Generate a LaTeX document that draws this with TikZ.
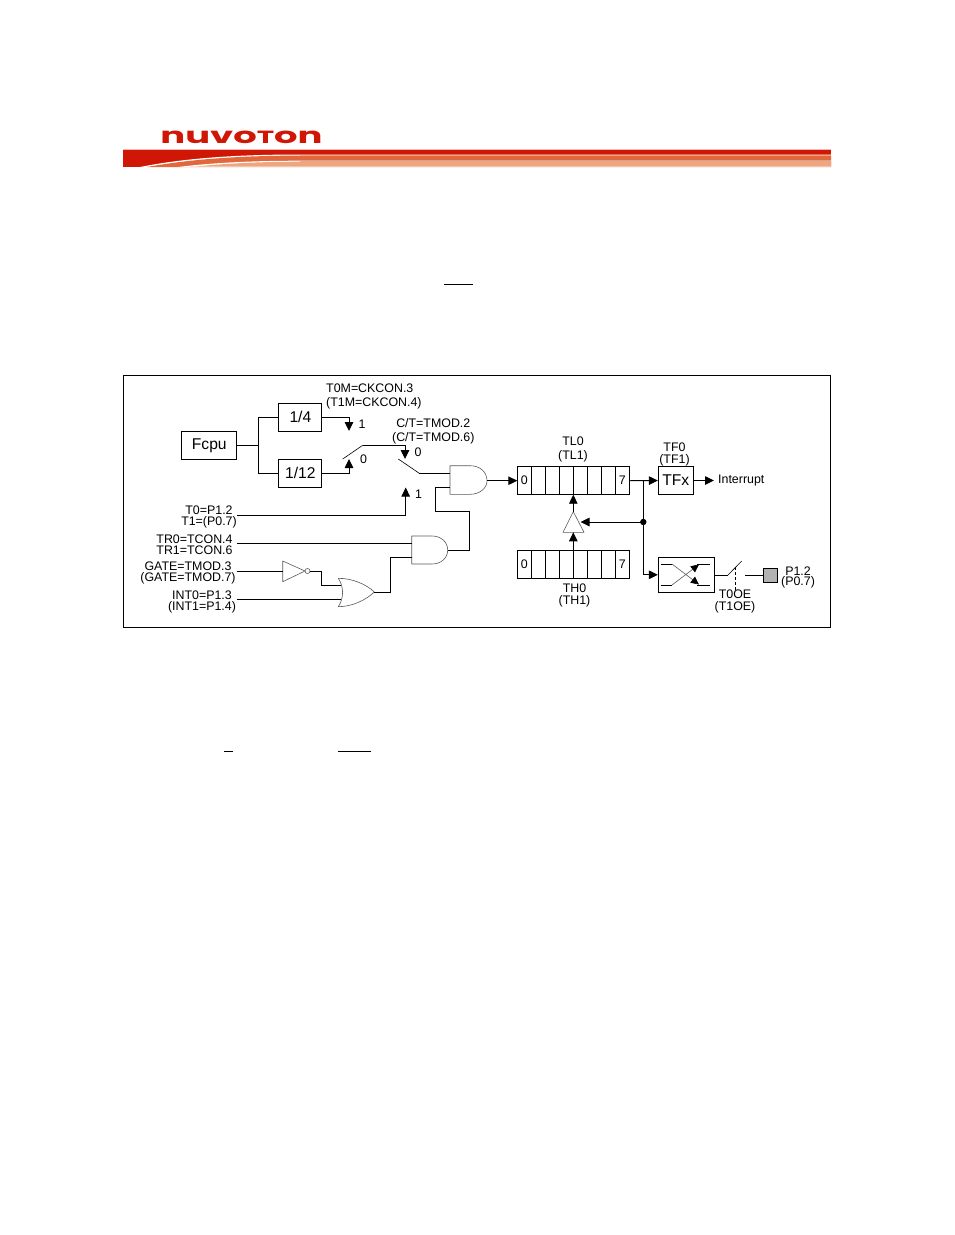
\documentclass[tikz,border=0pt]{standalone}
\usepackage{fontspec}
\setmainfont{Liberation Sans}
\newfontfamily\logofont{Poppins}
\usetikzlibrary{arrows.meta,calc}
\definecolor{nuvored}{RGB}{208,22,4}
\definecolor{nuvomid}{RGB}{224,104,60}
\definecolor{nuvolight}{RGB}{236,166,128}
\definecolor{graybox}{RGB}{178,178,178}
\definecolor{thin}{RGB}{90,90,90}
\tikzset{
  x=1pt,y=-1pt,
  wire/.style={line width=0.9pt,line join=miter},
  arrowwire/.style={wire,-{Triangle[length=9pt,width=8.5pt]}},
  boxn/.style={draw,line width=0.9pt,minimum width=#1,inner sep=0pt,font=\fontsize{15.6}{16}\selectfont},
  cell/.style={draw,line width=0.9pt,anchor=north west,minimum width=14pt,inner sep=0pt,outer sep=0pt,font=\fontsize{12.4}{14}\selectfont},
  lab/.style={inner sep=0pt,align=center,font=\fontsize{12.4}{#1}\selectfont},
  lab/.default=11,
  gate/.style={draw=thin,line width=0.6pt,line join=round},
}
\begin{document}
\begin{tikzpicture}
\useasboundingbox[fill=white] (0,0) rectangle (954,1235);
% header
\node[inner sep=0pt,text=nuvored,xscale=1.64,yscale=0.98,font=\logofont\bfseries\fontsize{22.5}{24}\selectfont] (logo) at (241.5,137) {nuvo{\fontsize{18}{24}\selectfont T}on};
\fill[nuvored] (123,149) rectangle (831,167);
\fill[white!70!nuvored] (123,149) rectangle (831,150);
\fill[white] (140,167) .. controls (180,159) and (230,154.5) .. (300,154.5) -- (831,154.5) -- (831,167) -- cycle;
\fill[nuvomid] (147,167) .. controls (185,160) and (235,155.6) .. (300,155.6) -- (831,155.6) -- (831,167) -- cycle;
\fill[white] (178,167) .. controls (210,163) and (250,160.7) .. (300,160.7) -- (831,160.7) -- (831,167) -- cycle;
\fill[nuvolight] (190,167) .. controls (225,163.5) and (260,161.7) .. (300,161.7) -- (831,161.7) -- (831,166.5) -- (190,166.5) -- cycle;
\fill[nuvolight] (300,154.5) rectangle (831,155.6);
\fill[nuvolight] (300,160.7) rectangle (831,161.7);
% overlines from the page text
\draw[line width=1pt] (444,284) -- (473,284);
\draw[line width=1pt] (224,751) -- (233,751);
\draw[line width=1pt] (338,751) -- (371,751);
% frame
\draw[line width=0.8pt] (123.5,375.5) rectangle (830.5,627.5);

% boxes
\node[boxn=55pt,minimum height=27.5pt] (fcpu) at (209.3,445.3) {\raisebox{0.5pt}{Fcpu}};
\node[boxn=43pt,minimum height=28pt] (div4) at (300.4,417) {\raisebox{1pt}{1/4}};
\node[boxn=43pt,minimum height=28pt] (div12) at (300.4,473) {\raisebox{1pt}{1/12}};
\node[boxn=35pt,minimum height=28pt] (tfx) at (675.8,480.5) {\raisebox{1pt}{TFx}};
\node[draw,line width=0.9pt,minimum width=56pt,minimum height=35pt,inner sep=0pt] (cross) at (686.3,574.8) {};
\node[draw,line width=0.9pt,fill=graybox,minimum width=14.5pt,minimum height=14.5pt,inner sep=0pt] (pin) at (770.5,575.3) {};

% registers
\foreach \r/\yy/\hh in {tl/466.7/28,th/550.3/28}{
  \foreach \i in {0,...,7}{
    \pgfmathsetmacro{\xx}{517.3+14*\i}
    \node[cell,minimum height=\hh pt] (\r\i) at (\xx,\yy) {\ifnum\i=0 0\else\ifnum\i=7 7\fi\fi};
  }
}

% gates
\draw[gate] (450,465.7) -- (470,465.7) .. controls (480,465.7) and (487,472) .. (487,480.7)
  .. controls (487,488) and (480,494.3) .. (470,494.3) -- (450,494.3) -- cycle;
\coordinate (and1o) at (487,480.7);
\draw[gate] (411.7,536) -- (432,536) .. controls (441,536) and (447.7,542) .. (447.7,550)
  .. controls (447.7,558) and (441,564) .. (432,564) -- (411.7,564) -- cycle;
\coordinate (and2o) at (447.7,550);
\draw[gate] (338.3,578.3) .. controls (352,578.3) and (366,584) .. (374.3,592)
  .. controls (366,600) and (352,606.7) .. (338.3,606.7)
  .. controls (344,598) and (344,587) .. (338.3,578.3) -- cycle;
\coordinate (oro) at (374.3,592);
\draw[gate] (282.7,561) -- (305,571) -- (282.7,581.7) -- cycle;
\draw[gate] (307.5,571) circle[radius=2.5pt];
\coordinate (noto) at (310,571);
\draw[gate] (573.3,511.7) -- (584,532.3) -- (563,532.3) -- cycle;
\coordinate (buftop) at (573.3,511.7);
\coordinate (bufbot) at (573.3,532.3);
\coordinate (bufright) at (580.5,522);

% coordinates
\coordinate (branch) at (258.3,445.3);
\coordinate (sw1tip) at (349,431);
\coordinate (sw1bot) at (349,459);
\coordinate (sw1a) at (342.7,459);
\coordinate (sw1b) at (362.7,445.3);
\coordinate (sw2in) at (405,459);
\coordinate (sw2a) at (398.3,459);
\coordinate (sw2b) at (419.3,473.3);
\coordinate (sw2one) at (405.7,487.5);
\coordinate (junc) at (643.3,522);

% labels
\node[inner sep=0pt,align=left,anchor=west,font=\fontsize{12.4}{14}\selectfont] (t0m) at (326,396.2) {T0M=CKCON.3\\(T1M=CKCON.4)};
\node[lab=14] (ct) at (433.3,431.2) {C/T=TMOD.2\\(C/T=TMOD.6)};
\node[lab=14] (tl) at (573,449) {TL0\\(TL1)};
\node[lab=12] (tf) at (674.5,454) {TF0\\(TF1)};
\node[lab=12] (th) at (574.5,595) {TH0\\(TH1)};
\node[lab=12] (t0oe) at (735,601) {T0OE\\(T1OE)};
\node[lab=10] (p12) at (798,577) {P1.2\\(P0.7)};
\node[lab] (t0) at (209,516.5) {T0=P1.2\\T1=(P0.7)};
\node[lab] (tr0) at (194.5,545) {TR0=TCON.4\\TR1=TCON.6};
\node[lab] (gt) at (188,573) {GATE=TMOD.3\\(GATE=TMOD.7)};
\node[lab] (int) at (202,601.5) {INT0=P1.3\\(INT1=P1.4)};
\node[lab,anchor=west] (one1) at (358.5,424) {1};
\node[lab,anchor=west] (zero1) at (360,459) {0};
\node[lab,anchor=west] (zero2) at (414.5,452.5) {0};
\node[lab,anchor=west] (one2) at (415,494) {1};
\node[inner sep=0pt,anchor=west,font=\fontsize{12.4}{14}\selectfont] (intr) at (718,480.5) {Interrupt};

% wires
\draw[wire] (fcpu.east) -- (branch);
\draw[wire] (div4.west) -| (branch) |- (div12.west);
\draw[arrowwire] (div4.east) -| (sw1tip);
\draw[arrowwire] (div12.east) -| (sw1bot);
\draw[wire,line width=0.6pt] (sw1a) -- (sw1b);
\draw[arrowwire] (sw1b) -| (sw2in);
\draw[wire,line width=0.6pt] (sw2a) -- (sw2b);
\draw[wire] (sw2b) -- (450,473.3);
\draw[arrowwire] (and1o) -- (tl0.west);
\draw[wire] (450,487.7) -| (435,511.7) -| (469.3,550) -- (and2o);
\draw[arrowwire] (237,515.3) -| (sw2one);
\draw[wire] (237,543.3) -- (411.7,543.3);
\draw[wire] (237,571) -- (282.7,571);
\draw[wire] (noto) -| (321.7,585.3) -- (341,585.3);
\draw[wire] (237,599.3) -- (341,599.3);
\draw[wire] (oro) -| (390,557.3) -- (411.7,557.3);
\draw[arrowwire] (tl7.east) -- (tfx.west);
\draw[arrowwire] (tfx.east) -- (714,480.5);
\draw[wire] (643.3,480.5) -- (junc);
\draw[arrowwire] (junc) |- (cross.west);
\fill (junc) circle[radius=3.2pt];
\draw[arrowwire] (junc) -- (bufright);
\draw[arrowwire] (573.3,550.3) -- (bufbot);
\draw[arrowwire] (buftop) -- (573.3,494.7);
% crossover
\draw[wire] (660.7,564) -- (672,564);
\draw[wire] (660.7,585) -- (672,585);
\draw[wire] (697,564) -- (710,564);
\draw[wire] (697,585) -- (710,585);
\draw[gate,-{Triangle[length=8pt,width=7.5pt,black]}] (672,585) -- (699,564.5);
\draw[gate,-{Triangle[length=8pt,width=7.5pt,black]}] (672,564) -- (699,584.5);
% output switch
\draw[wire] (cross.east |- 0,575.3) -- (727.7,575.3);
\draw[wire,line width=0.6pt] (727.7,575.3) -- (741.7,561);
\draw[wire,densely dashed,line width=0.7pt] (735,567) -- (735,590);
\draw[wire] (745,575.3) -- (pin.west);
\end{tikzpicture}
\end{document}
